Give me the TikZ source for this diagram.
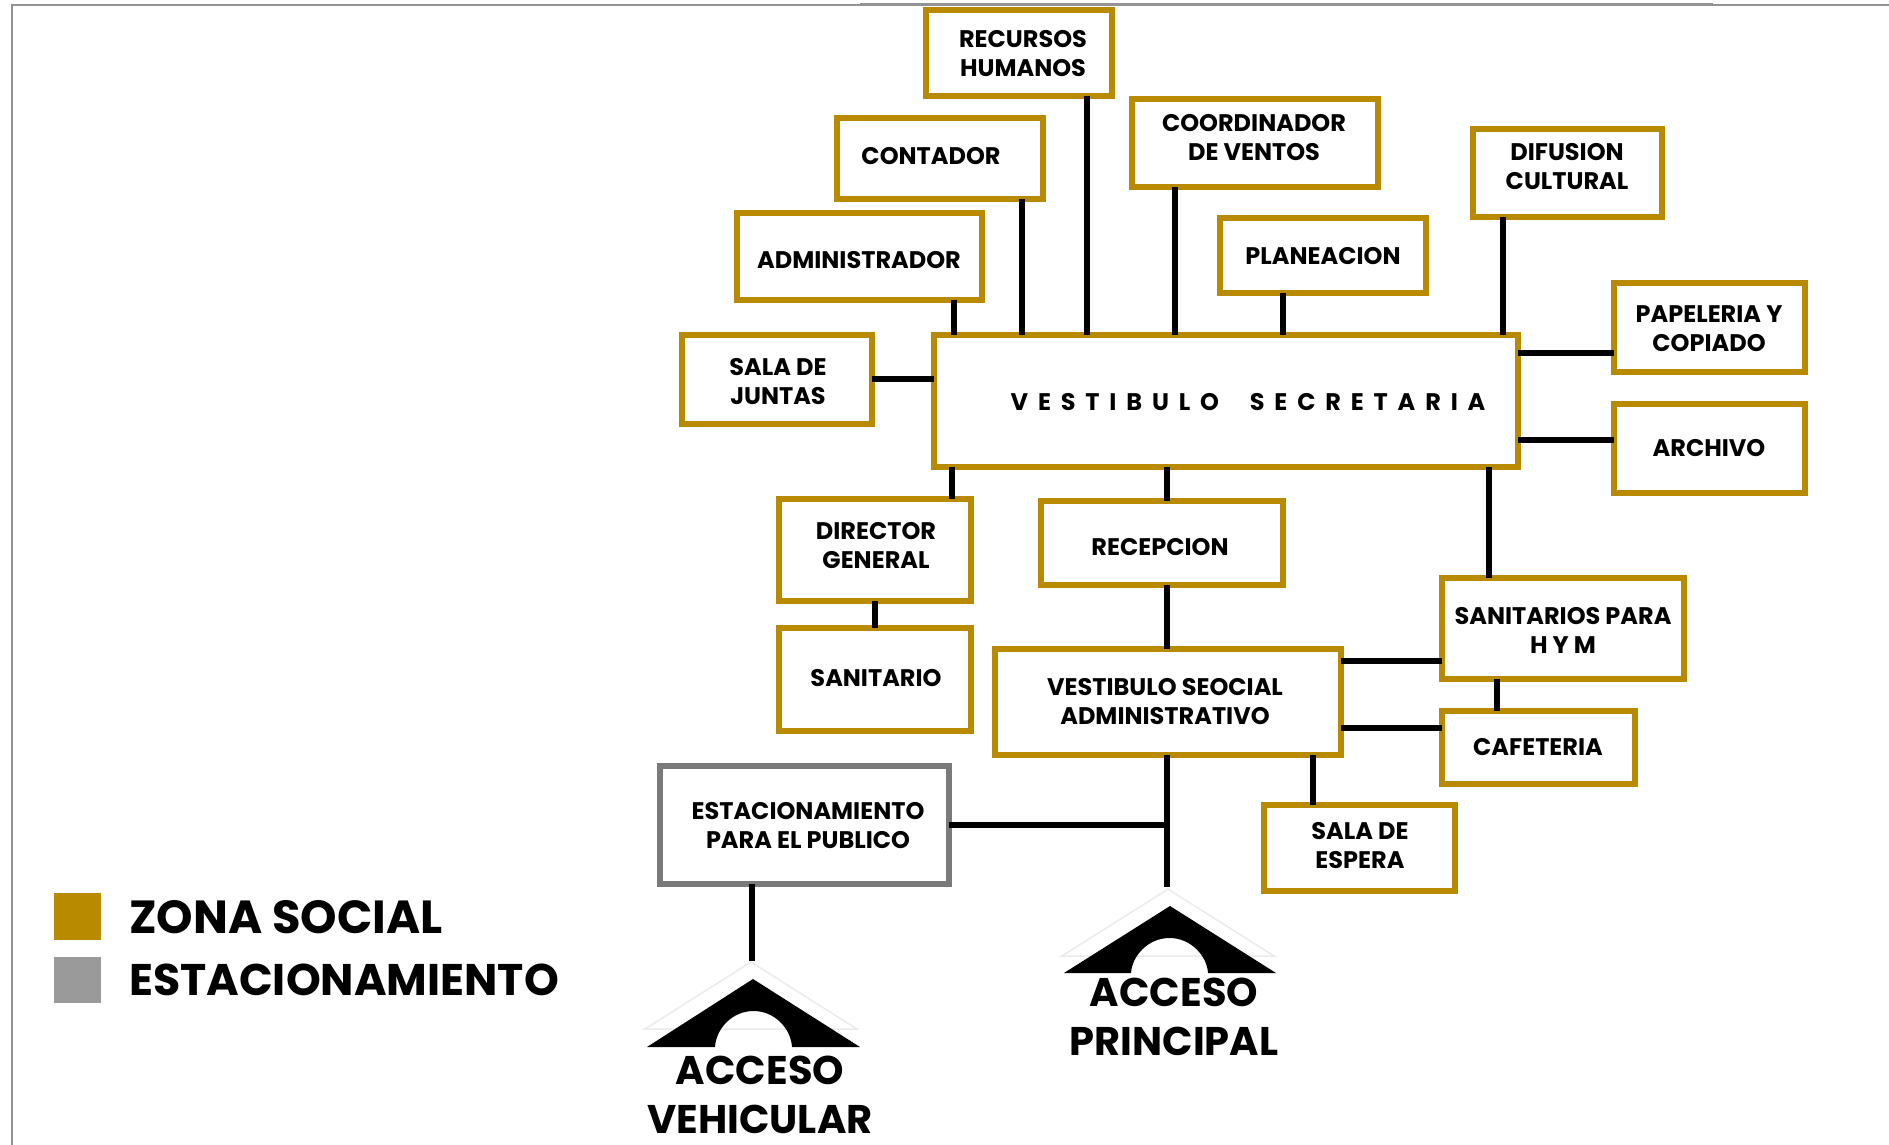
\documentclass[tikz,border=0pt]{standalone}
\usepackage{fontspec}
\setmainfont{Poppins}
\definecolor{gold}{HTML}{B88A00}
\definecolor{gris}{HTML}{7A7A7A}
\definecolor{grisleg}{HTML}{9A9A9A}
\tikzset{
  x=1pt,y=-1pt,
  room/.style={draw=gold,line width=5.2pt,fill=white,inner sep=0pt,outer sep=0pt},
  parking/.style={room,draw=gris},
  lab/.style={align=center,font=\fontsize{24}{29}\selectfont\bfseries,inner sep=0pt,text=black},
  big/.style={align=center,font=\fontsize{40}{49}\selectfont\bfseries,inner sep=0pt,text=black},
  leg/.style={anchor=west,inner sep=0pt,text=black},
  link/.style={draw=black,line width=6pt},
  frameline/.style={draw=gray!85,line width=1.2pt},
  halo/.style={draw=black!8,line width=1.5pt},
  roof/.style={fill=black,draw=none},
}
\newcommand{\rbx}[9][room]{%
  \node[#1,minimum width={(#4)-(#2)},minimum height={(#5)-(#3)}] (#6) at ({((#2)+(#4))/2},{((#3)+(#5))/2}) {};%
  \node[lab] (#6t) at (#7,#8) {#9};}
\newcommand{\vl}[3]{\coordinate (tmpx) at (#3,0); \draw[link] (#1 -| tmpx) -- (#2 -| tmpx);}
\newcommand{\hl}[3]{\coordinate (tmpy) at (0,#3); \draw[link] (#1 |- tmpy) -- (#2 |- tmpy);}
\newcommand{\roofsym}[7]{%
  \fill[roof] (#4,#3) -- (#1,#2) -- (#5,#3) -- (#7,#3) .. controls ({#7-1},{#2+50}) and ({#7-17},{#2+32}) .. ({(#6+#7)/2},{#2+32}) .. controls ({#6+17},{#2+32}) and ({#6+1},{#2+50}) .. (#6,#3) -- cycle;}
\begin{document}
\begin{tikzpicture}
\useasboundingbox (0,0) rectangle (1889,1145);
\fill[white] (0,0) rectangle (1889,1145);
\draw[frameline] (12,1145) -- (12,5) -- (1889,5);
\draw[draw=gray!85,line width=2pt] (860,4) -- (1713,4);

\rbx{926}{10}{1112}{96}{rh}{1023}{54}{RECURSOS\\HUMANOS}
\rbx{837}{118}{1043}{199}{cont}{931}{156}{CONTADOR}
\rbx{1132}{99}{1378}{187}{coord}{1254}{138}{COORDINADOR\\DE VENTOS}
\rbx{1473}{129}{1662}{217}{dif}{1567}{167}{DIFUSION\\CULTURAL}
\rbx{1220}{218}{1426}{293}{plan}{1323}{256}{PLANEACION}
\rbx{737}{213}{982}{300}{adm}{859}{260}{ADMINISTRADOR}
\rbx{1614}{283}{1805}{372}{pap}{1709}{329}{PAPELERIA Y\\COPIADO}
\rbx{682}{335}{872}{424}{jun}{778}{382}{SALA DE\\JUNTAS}
\rbx{934}{335}{1518}{467}{vest}{1248}{402}{\addfontfeature{LetterSpace=41}VESTIBULO\hspace{16pt} SECRETARIA}
\rbx{1614}{404}{1805}{493}{arch}{1709}{448}{ARCHIVO}
\rbx{779}{499}{971}{601}{dir}{876}{546}{DIRECTOR\\GENERAL}
\rbx{1041}{501}{1283}{585}{rec}{1160}{547}{RECEPCION}
\rbx{779}{628}{971}{731}{san}{876}{678}{SANITARIO}
\rbx{1442}{578}{1684}{679}{sanhm}{1563}{630}{SANITARIOS PARA\\H Y M}
\rbx{995}{649}{1341}{755}{vsoc}{1165}{702}{VESTIBULO SEOCIAL\\ADMINISTRATIVO}
\rbx{1442}{711}{1635}{784}{caf}{1538}{747}{CAFETERIA}
\rbx{1264}{805}{1455}{891}{esp}{1360}{846}{SALA DE\\ESPERA}
\rbx[parking]{660}{766}{949}{884}{est}{808}{826}{ESTACIONAMIENTO\\PARA EL PUBLICO}

\coordinate (accP) at (1167,887);
\coordinate (accV) at (752,961);
\coordinate (junc) at (1167,825);

\vl{adm.south}{vest.north}{954}
\vl{cont.south}{vest.north}{1022}
\vl{rh.south}{vest.north}{1087}
\vl{coord.south}{vest.north}{1175}
\vl{plan.south}{vest.north}{1283}
\vl{dif.south}{vest.north}{1503}
\hl{vest.east}{pap.west}{353}
\hl{vest.east}{arch.west}{440}
\hl{jun.east}{vest.west}{379}
\vl{vest.south}{dir.north}{952}
\vl{vest.south}{rec.north}{1167}
\vl{vest.south}{sanhm.north}{1489}
\vl{dir.south}{san.north}{875}
\vl{rec.south}{vsoc.north}{1167}
\hl{vsoc.east}{sanhm.west}{661}
\hl{vsoc.east}{caf.west}{728}
\vl{sanhm.south}{caf.north}{1497}
\vl{vsoc.south}{esp.north}{1313}
\vl{vsoc.south}{accP}{1167}
\draw[link] (est.east |- junc) -- (junc);
\vl{est.south}{accV}{752}

\draw[halo] (645,1029) -- (751,962) -- (857,1029) -- cycle;
\roofsym{753}{979}{1047}{647}{860}{715}{792}
\draw[halo] (1062,956) -- (1168,889) -- (1274,956) -- cycle;
\roofsym{1170}{906}{973}{1064}{1276}{1131}{1208}
\node[big] (accVt) at (760,1095) {ACCESO\\VEHICULAR};
\node[big] (accPt) at (1174,1017) {ACCESO\\PRINCIPAL};

\node[fill=gold,minimum width=47,minimum height=47,inner sep=0pt] (lg1) at (77.5,916.5) {};
\node[fill=grisleg,minimum width=47,minimum height=46,inner sep=0pt] (lg2) at (77.5,980) {};
\node[leg,font=\fontsize{46.4}{46}\selectfont\bfseries] (lt1) at (129,917) {ZONA SOCIAL};
\node[leg,font=\fontsize{44.3}{46}\selectfont\bfseries] (lt2) at (129,980) {ESTACIONAMIENTO};
\end{tikzpicture}
\end{document}
